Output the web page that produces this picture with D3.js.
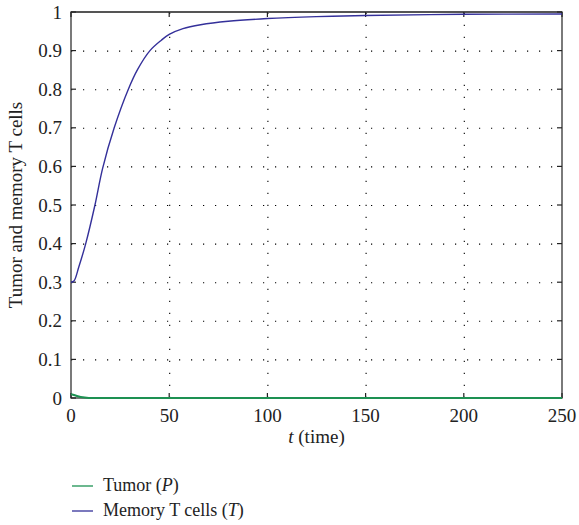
<!DOCTYPE html>
<html>
<head>
<meta charset="utf-8">
<script src="https://cdn.jsdelivr.net/npm/d3@7"></script>
<style>
  body { margin: 0; background: #fff; }
  svg { display: block; }
</style>
</head>
<body>
<div id="chart"></div>
<script>
// time points and values
const timeMemory = [0, 1.5, 4, 7.5, 12.2, 16.1, 22, 29.2, 34, 40.2, 46, 50, 57, 66, 80, 100, 125, 150, 200, 250];
const memoryT = [0.30, 0.303, 0.34, 0.40, 0.50, 0.595, 0.70, 0.80, 0.852, 0.90, 0.927, 0.942, 0.957, 0.967, 0.976, 0.983, 0.988, 0.991, 0.994, 0.995];
const timeTumor = [0, 2, 4, 6, 8, 10, 250];
const tumorP = [0.010, 0.007, 0.004, 0.002, 0.0008, 0.0003, 0];
const xTicks = [0, 50, 100, 150, 200, 250];
const yTicks = [0, 0.1, 0.2, 0.3, 0.4, 0.5, 0.6, 0.7, 0.8, 0.9, 1];

const W = 579, H = 525;
const MARGIN = { top: 12, right: 17, bottom: 127, left: 71 };
const COLOR_TUMOR = '#1d9152';
const COLOR_MEMORY = '#34309a';
const FONT = '"Liberation Serif", "Times New Roman", serif';

const svg = d3.select('#chart').append('svg')
  .attr('width', W).attr('height', H)
  .style('font-family', FONT);

const x = d3.scaleLinear().domain([0, 250]).range([MARGIN.left, W - MARGIN.right]);
const y = d3.scaleLinear().domain([0, 1]).range([H - MARGIN.bottom, MARGIN.top]);
const [x0, x1] = x.range();
const [y0, y1] = y.range();

// dotted grid
svg.append('g')
  .selectAll('line')
  .data(yTicks.slice(1, -1))
  .join('line')
  .attr('x1', x0).attr('x2', x1)
  .attr('y1', (d) => y(d) + 0.5).attr('y2', (d) => y(d) + 0.5)
  .attr('stroke', '#000').attr('stroke-width', 1.1)
  .attr('stroke-dasharray', '1.2,10.8');

svg.append('g')
  .selectAll('line')
  .data(xTicks.slice(1, -1))
  .join('line')
  .attr('x1', (d) => x(d) + 0.5).attr('x2', (d) => x(d) + 0.5)
  .attr('y1', y0).attr('y2', y1)
  .attr('stroke', '#000').attr('stroke-width', 1.1)
  .attr('stroke-dasharray', '1.2,10.8');

// frame
svg.append('rect')
  .attr('x', x0).attr('y', y1)
  .attr('width', x1 - x0).attr('height', y0 - y1)
  .attr('fill', 'none').attr('stroke', '#333').attr('stroke-width', 1.3);
svg.append('line')
  .attr('x1', x0).attr('x2', x1).attr('y1', y1).attr('y2', y1)
  .attr('stroke', '#555').attr('stroke-width', 2);

// inward ticks
const TICK = 5;
const tickG = svg.append('g').attr('stroke', '#222').attr('stroke-width', 1.2);
for (const t of xTicks) {
  tickG.append('line').attr('x1', x(t)).attr('x2', x(t)).attr('y1', y0).attr('y2', y0 - TICK);
  tickG.append('line').attr('x1', x(t)).attr('x2', x(t)).attr('y1', y1).attr('y2', y1 + TICK);
}
for (const v of yTicks) {
  tickG.append('line').attr('x1', x0).attr('x2', x0 + TICK).attr('y1', y(v)).attr('y2', y(v));
  tickG.append('line').attr('x1', x1).attr('x2', x1 - TICK).attr('y1', y(v)).attr('y2', y(v));
}

// tick labels
svg.append('g')
  .selectAll('text')
  .data(xTicks)
  .join('text')
  .attr('x', (d) => x(d))
  .attr('y', y0 + 24)
  .attr('text-anchor', 'middle')
  .attr('font-size', '19px')
  .attr('fill', '#222')
  .text((d) => d);

svg.append('g')
  .selectAll('text')
  .data(yTicks)
  .join('text')
  .attr('x', x0 - 9)
  .attr('y', (d) => y(d))
  .attr('dy', '0.35em')
  .attr('text-anchor', 'end')
  .attr('font-size', '19px')
  .attr('fill', '#222')
  .text((d) => (d === 0 || d === 1 ? String(d) : d.toFixed(1)));

// axis titles
const xTitle = svg.append('text')
  .attr('x', (x0 + x1) / 2)
  .attr('y', y0 + 45)
  .attr('text-anchor', 'middle')
  .attr('font-size', '19px')
  .attr('fill', '#222');
xTitle.append('tspan').attr('font-style', 'italic').text('t');
xTitle.append('tspan').text(' (time)');

svg.append('text')
  .attr('transform', `translate(22,${(y0 + y1) / 2}) rotate(-90)`)
  .attr('text-anchor', 'middle')
  .attr('font-size', '19px')
  .attr('fill', '#222')
  .text('Tumor and memory T cells');

// curves
const line = d3.line().x((d) => x(d[0])).y((d) => y(d[1])).curve(d3.curveMonotoneX);

svg.append('path')
  .datum(timeTumor.map((t, i) => [t, tumorP[i]]))
  .attr('d', line)
  .attr('fill', 'none')
  .attr('stroke', COLOR_TUMOR)
  .attr('stroke-width', 2);

svg.append('path')
  .datum(timeMemory.map((t, i) => [t, memoryT[i]]))
  .attr('d', line.curve(d3.curveCatmullRom.alpha(0.5)))
  .attr('fill', 'none')
  .attr('stroke', COLOR_MEMORY)
  .attr('stroke-width', 1.4);

// legend
const legend = [
  { color: COLOR_TUMOR, name: 'Tumor (', sym: 'P' },
  { color: COLOR_MEMORY, name: 'Memory T cells (', sym: 'T' }
];
const lg = svg.append('g').attr('transform', 'translate(72,486)');
legend.forEach((d, i) => {
  const row = lg.append('g').attr('transform', `translate(0,${i * 25})`);
  row.append('line').attr('x1', 0).attr('x2', 21).attr('y1', 0).attr('y2', 0)
    .attr('stroke', d.color).attr('stroke-width', 1.3);
  const t = row.append('text').attr('x', 31).attr('y', 0).attr('dy', '0.3em')
    .attr('font-size', '18px').attr('fill', '#222');
  t.append('tspan').text(d.name);
  t.append('tspan').attr('font-style', 'italic').text(d.sym);
  t.append('tspan').text(')');
});
</script>
</body>
</html>
